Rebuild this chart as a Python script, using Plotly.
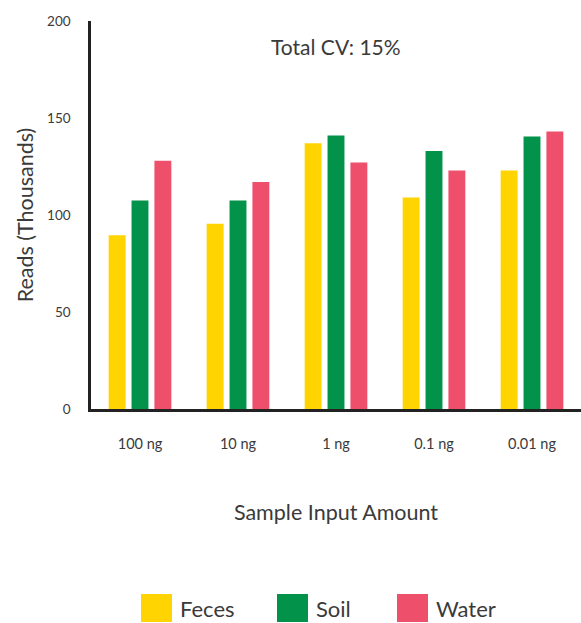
import plotly.graph_objects as go

categories = ["100 ng", "10 ng", "1 ng", "0.1 ng", "0.01 ng"]
series_names = ["Feces", "Soil", "Water"]
feces = [89.5, 95.5, 137, 109, 123]
soil = [107.5, 107.5, 141, 133, 140.5]
water = [128, 117, 127, 123, 143]
colors = ["#FFD400", "#02924A", "#EE506C"]

values = [feces, soil, water]

W, H = 581, 623
plot_left, plot_right, plot_top, plot_bottom = 91, 581, 21, 409
L = plot_left
R = W - plot_right
T = plot_top
B = H - plot_bottom
pw, ph = plot_right - plot_left, plot_bottom - plot_top

def px(x):
    return (x - plot_left) / pw

def py(y):
    return (plot_bottom - y) / ph

fig = go.Figure()
for name, vals, col in zip(series_names, values, colors):
    fig.add_trace(go.Bar(x=categories, y=vals, name=name, marker=dict(color=col, line=dict(width=0)),
                         showlegend=False))

font_family = "Lato, 'Open Sans', sans-serif"
text_col = "#3a3a3a"

fig.update_layout(
    width=W, height=H,
    margin=dict(l=L, r=R, t=T, b=B),
    paper_bgcolor="white", plot_bgcolor="white",
    barmode="group", bargap=0.30, bargroupgap=0.26,
    font=dict(family=font_family, color=text_col),
    xaxis=dict(
        range=[-0.5, 4.5], showline=True, linecolor="#222", linewidth=3,
        showgrid=False, ticks="", tickfont=dict(size=14.5, color=text_col),
        ticklabelstandoff=20,
        title=dict(text="Sample Input Amount", font=dict(size=21.5, color=text_col), standoff=54),
    ),
    yaxis=dict(
        range=[0, 200], tickvals=[0, 50, 100, 150, 200], showline=True, linecolor="#222",
        linewidth=2.5, showgrid=False, zeroline=False, ticks="",
        tickfont=dict(size=13.5, color=text_col), ticklabelstandoff=15,
        title=dict(text="Reads (Thousands)", font=dict(size=21.5, color=text_col), standoff=8),
    ),
)

fig.add_annotation(text="Total CV: 15%", x=px(336), y=py(46), xref="paper", yref="paper",
                   showarrow=False, font=dict(size=21, color=text_col), xanchor="center", yanchor="middle")

legend_x = [141, 277, 397]
sq_w, sq_h = 31, 28
sq_top = 594
for name, col, lx in zip(series_names, colors, legend_x):
    fig.add_shape(type="rect", xref="paper", yref="paper",
                  x0=px(lx), x1=px(lx + sq_w), y0=py(sq_top + sq_h), y1=py(sq_top),
                  fillcolor=col, line=dict(width=0))
    fig.add_annotation(text=name, x=px(lx + sq_w + 6), y=py(sq_top + sq_h / 2), xref="paper", yref="paper",
                       showarrow=False, xanchor="left", yanchor="middle",
                       font=dict(size=22, color=text_col))

fig.write_html("out.html", config={"displayModeBar": False},
               post_script="document.body.style.margin='0';document.body.style.overflow='hidden';")
